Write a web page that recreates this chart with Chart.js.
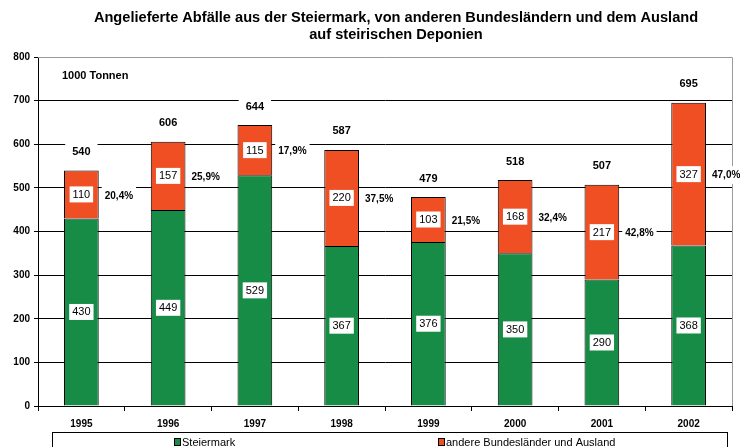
<!DOCTYPE html>
<html>
<head>
<meta charset="utf-8">
<script src="https://cdn.jsdelivr.net/npm/chart.js@4/dist/chart.umd.min.js"></script>
<style>
  html, body { margin: 0; padding: 0; background: #fff; }
  #wrap { width: 740px; height: 447px; position: relative; }
</style>
</head>
<body>
<div id="wrap"><canvas id="c" width="740" height="447"></canvas></div>
<script>
const years = ['1995', '1996', '1997', '1998', '1999', '2000', '2001', '2002'];
const steiermark = [430, 449, 529, 367, 376, 350, 290, 368];
const andere = [110, 157, 115, 220, 103, 168, 217, 327];
const shares = ['20,4%', '25,9%', '17,9%', '37,5%', '21,5%', '32,4%', '42,8%', '47,0%'];
const yTicks = [0, 100, 200, 300, 400, 500, 600, 700, 800];

const titleLines = [
  'Angelieferte Abfälle aus der Steiermark, von anderen Bundesländern und dem Ausland',
  'auf steirischen Deponien'
];
const unitLabel = '1000 Tonnen';

const FONT = 'Arial, "Liberation Sans", sans-serif';

function boxText(ctx, text, x, y, align, font, padX, h) {
  ctx.font = font;
  const w = ctx.measureText(text).width;
  let left = align === 'left' ? x - padX : x - w / 2 - padX;
  ctx.fillStyle = '#fff';
  ctx.fillRect(left, y - h / 2, w + padX * 2, h);
  ctx.fillStyle = '#000';
  ctx.textAlign = align;
  ctx.textBaseline = 'middle';
  ctx.fillText(text, x, y + 0.5);
}

const decor = {
  id: 'decor',
  beforeDatasetsDraw(chart) {
    const { ctx, chartArea } = chart;
    ctx.save();
    ctx.strokeStyle = '#9a9a9a';
    ctx.lineWidth = 1;
    ctx.beginPath();
    ctx.moveTo(chartArea.left, chartArea.top + 0.5);
    ctx.lineTo(chartArea.right + 0.5, chartArea.top + 0.5);
    ctx.lineTo(chartArea.right + 0.5, chartArea.bottom);
    ctx.stroke();
    ctx.restore();
  },
  afterDraw(chart) {
    const { ctx } = chart;
    const g = chart.getDatasetMeta(0).data;
    const r = chart.getDatasetMeta(1).data;
    ctx.save();

    // title
    ctx.fillStyle = '#000';
    ctx.font = 'bold 14.6px ' + FONT;
    ctx.textAlign = 'center';
    ctx.textBaseline = 'middle';
    ctx.fillText(titleLines[0], 396, 18);
    ctx.fillText(titleLines[1], 396, 35);

    ctx.font = 'bold 11px ' + FONT;
    ctx.textAlign = 'left';
    ctx.fillText(unitLabel, 62, 76);

    for (let i = 0; i < years.length; i++) {
      const gb = g[i], rb = r[i];
      const gy = (gb.y + gb.base) / 2;
      const ry = (rb.y + rb.base) / 2;
      boxText(ctx, String(steiermark[i]), gb.x, gy, 'center', '11px ' + FONT, 3, 16);
      boxText(ctx, String(andere[i]), rb.x, ry, 'center', '11px ' + FONT, 3, 16);
      boxText(ctx, String(steiermark[i] + andere[i]), rb.x, rb.y - 19, 'center', 'bold 11px ' + FONT, 7, 16);
      boxText(ctx, shares[i], rb.x + rb.width / 2 + 6, ry + 1, 'left', 'bold 10px ' + FONT, 3, 18);
    }

    // legend
    ctx.strokeStyle = '#000';
    ctx.lineWidth = 1;
    ctx.fillStyle = '#fff';
    ctx.fillRect(52.5, 432.5, 675, 20);
    ctx.strokeRect(52.5, 432.5, 675, 20);
    const items = [
      { x: 174, ds: chart.data.datasets[0] },
      { x: 438, ds: chart.data.datasets[1] }
    ];
    ctx.font = '11px ' + FONT;
    ctx.textAlign = 'left';
    ctx.textBaseline = 'middle';
    items.forEach(it => {
      ctx.fillStyle = it.ds.backgroundColor;
      ctx.fillRect(it.x + 0.5, 438.5, 6, 7);
      ctx.strokeStyle = '#000';
      ctx.strokeRect(it.x + 0.5, 438.5, 6, 7);
      ctx.fillStyle = '#000';
      ctx.fillText(it.ds.label, it.x + 8, 442.5);
    });
    ctx.restore();
  }
};

new Chart(document.getElementById('c'), {
  type: 'bar',
  data: {
    labels: years,
    datasets: [
      { label: 'Steiermark', data: steiermark, backgroundColor: '#168c46', borderColor: '#000', borderWidth: 1 },
      { label: 'andere Bundesländer und Ausland', data: andere, backgroundColor: '#f04e23', borderColor: '#000', borderWidth: 1 }
    ]
  },
  options: {
    responsive: false,
    animation: false,
    layout: { padding: { top: 57, right: 8, left: 0, bottom: 0 } },
    plugins: {
      legend: { display: false },
      title: { display: false },
      tooltip: { enabled: false }
    },
    datasets: { bar: { categoryPercentage: 1, barPercentage: 0.4 } },
    scales: {
      x: {
        stacked: true,
        grid: { drawOnChartArea: false, offset: true, tickLength: 5, color: '#000' },
        border: { color: '#000' },
        ticks: { color: '#000', font: { family: FONT, size: 10, weight: 'bold' }, padding: 7, maxRotation: 0 },
        afterFit(s) { s.height = 41; }
      },
      y: {
        stacked: true,
        min: yTicks[0],
        max: yTicks[yTicks.length - 1],
        afterBuildTicks(s) { s.ticks = yTicks.map(v => ({ value: v })); },
        grid: {
          color: c => (c.tick && c.tick.value === 800) ? 'rgba(0,0,0,0)' : '#000',
          tickColor: '#000',
          tickLength: 4
        },
        border: { color: '#000' },
        ticks: { color: '#000', font: { family: FONT, size: 10, weight: 'bold' }, padding: 4 },
        afterFit(s) { s.width = 38; }
      }
    }
  },
  plugins: [decor]
});
</script>
</body>
</html>
